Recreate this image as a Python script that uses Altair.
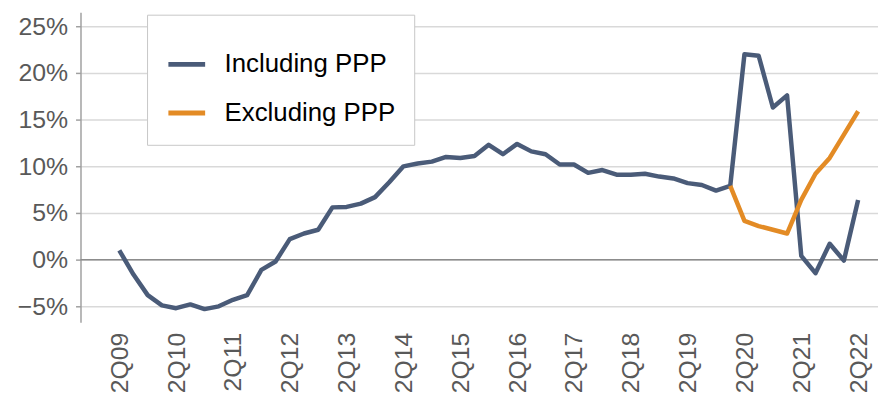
import altair as alt
import pandas as pd

quarters = [f"{q}Q{y:02d}" for y in range(9, 23) for q in (1, 2, 3, 4)][1:54]

including_ppp = [1.0, -1.6, -3.8, -4.9, -5.2, -4.8, -5.3, -5.0, -4.3, -3.8,
                 -1.1, -0.2, 2.2, 2.8, 3.2, 5.6, 5.65, 6.0, 6.7, 8.3,
                 10.0, 10.3, 10.5, 11.0, 10.9, 11.1, 12.3, 11.3, 12.4, 11.6,
                 11.3, 10.2, 10.2, 9.3, 9.6, 9.1, 9.1, 9.2, 8.9, 8.7,
                 8.2, 8.0, 7.4, 7.9, 22.0, 21.85, 16.3, 17.6, 0.4, -1.45,
                 1.7, -0.1, 6.4]

excluding_start = "1Q20"
excluding_ppp = [7.9, 4.15, 3.6, 3.2, 2.8, 6.4, 9.2, 10.9, 13.4, 15.9]

series_names = ["Including PPP", "Excluding PPP"]
series_colors = ["#4A5B78", "#E38B25"]

tick_labels = ["2Q09", "2Q10", "2Q11", "2Q12", "2Q13", "2Q14", "2Q15",
               "2Q16", "2Q17", "2Q18", "2Q19", "2Q20", "2Q21", "2Q22"]
y_ticks = [-5, 0, 5, 10, 15, 20, 25]

rows = []
for i, (q, v) in enumerate(zip(quarters, including_ppp)):
    rows.append({"idx": i, "quarter": q, "val": v, "series": series_names[0]})
start = quarters.index(excluding_start)
for j, v in enumerate(excluding_ppp):
    rows.append({"idx": start + j, "quarter": quarters[start + j], "val": v,
                 "series": series_names[1]})
df = pd.DataFrame(rows)

tick_idx = [quarters.index(t) for t in tick_labels]
label_map = "{" + ",".join(f"'{i}':'{t}'" for i, t in zip(tick_idx, tick_labels)) + "}"

FONT = "Liberation Sans"

x_enc = alt.X(
    "idx:Q",
    title=None,
    scale=alt.Scale(domain=[-2.73, 53.4], nice=False, zero=False),
    axis=alt.Axis(
        values=tick_idx,
        labelExpr=f"{label_map}[''+datum.value]",
        labelAngle=270,
        labelAlign="right",
        labelBaseline="middle",
        grid=False,
        ticks=False,
        domain=False,
        labelPadding=10,
        labelFontSize=25,
        labelFont=FONT,
        labelColor="#595959",
        labelOverlap=False,
    ),
)

y_enc = alt.Y(
    "val:Q",
    title=None,
    scale=alt.Scale(domain=[-6.7, 26.5], nice=False, zero=False),
    axis=alt.Axis(
        values=y_ticks,
        labelExpr="format(datum.value, 'd') + '%'",
        grid=True,
        gridColor="#D9D9D9",
        gridWidth=1.5,
        domainColor="#A0A0A0",
        domainWidth=1.5,
        tickColor="#A0A0A0",
        tickWidth=1.5,
        tickSize=5,
        labelPadding=8,
        labelFontSize=25,
        labelFont=FONT,
        labelColor="#595959",
    ),
)

color_enc = alt.Color(
    "series:N",
    scale=alt.Scale(domain=series_names, range=series_colors),
    legend=alt.Legend(
        title=" ",
        titleFontSize=4,
        titlePadding=6,
        orient="none",
        legendX=67,
        legendY=2.4,
        fillColor="white",
        strokeColor="#C8C8C8",
        padding=19,
        symbolType="stroke",
        symbolSize=1369,
        symbolStrokeWidth=5,
        labelFontSize=26,
        labelFont=FONT,
        labelColor="black",
        labelOffset=17,
        labelLimit=400,
        rowPadding=15,
    ),
)

zero_rule = alt.Chart(pd.DataFrame({"val": [0]})).mark_rule(
    color="#8C8C8C", strokeWidth=1.5
).encode(y=alt.Y("val:Q"))

line_incl = alt.Chart(df[df.series == series_names[0]]).mark_line(
    strokeWidth=4.5, strokeJoin="round"
).encode(x=x_enc, y=y_enc, color=color_enc)

line_excl = alt.Chart(df[df.series == series_names[1]]).mark_line(
    strokeWidth=4.5, strokeJoin="round"
).encode(x=x_enc, y=y_enc, color=color_enc)

chart = alt.layer(zero_rule, line_incl, line_excl).properties(
    width=803,
    height=312,
    autosize="none",
    padding={"left": 73, "top": 3, "right": 0, "bottom": 77},
).configure_view(stroke=None)

chart.save("out.html", embed_options={"renderer": "svg", "actions": False})
